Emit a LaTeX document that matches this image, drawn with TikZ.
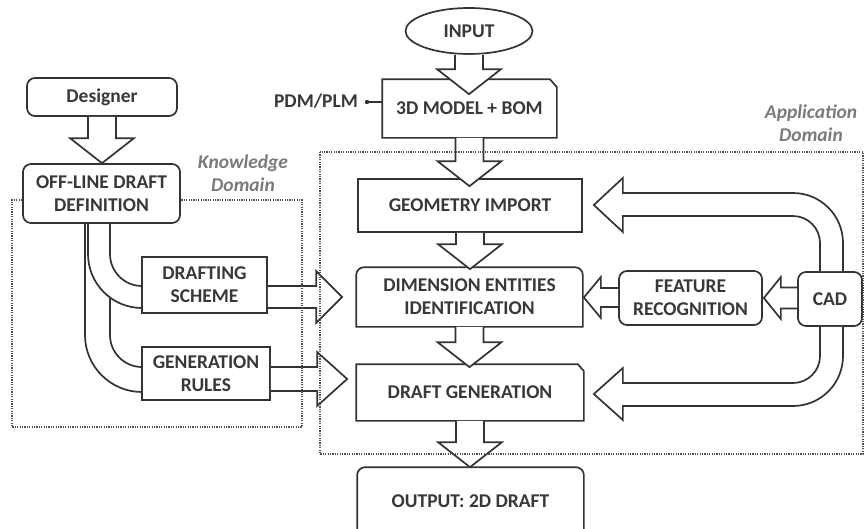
\documentclass[tikz,border=0pt]{standalone}
\usepackage{fontspec}
\setmainfont{Carlito}
\usetikzlibrary{shapes.geometric,calc}
\definecolor{lc}{HTML}{333333}
\definecolor{tc}{HTML}{383838}
\definecolor{dc}{HTML}{505050}
\definecolor{gc}{HTML}{7A7A7A}
\newcommand\nfont{\fontsize{19.5pt}{23pt}\selectfont\bfseries}
\newcommand\dfont{\fontsize{19.5pt}{23pt}\selectfont\bfseries\itshape}
% vertical hollow block arrow: from node #1 (south) to node #2 (north), tip #3 inside target
\newcommand\varrow[3]{\draw[blk] let \p1=(#1.south), \p2=(#2.north) in
  (\x1-14pt,\y1) -- (\x1-14pt,\y2-#3+25pt) -- (\x1-32pt,\y2-#3+25pt) -- (\x1,\y2-#3)
  -- (\x1+32pt,\y2-#3+25pt) -- (\x1+14pt,\y2-#3+25pt) -- (\x1+14pt,\y1);}
\begin{document}
\begin{tikzpicture}[x=1pt,y=-1pt,
  base/.style={draw=lc, line width=1.7pt, text=tc, font=\nfont, inner sep=0pt, align=center},
  sqbox/.style={base},
  rbox/.style={base, rounded corners=8pt},
  ghost/.style={base, draw=none},
  ell/.style={base, ellipse},
  shp/.style={draw=lc, line width=1.7pt, line join=miter},
  band/.style={draw=lc, line width=1.7pt},
  blk/.style={draw=lc, line width=1.7pt, fill=white, line join=miter},
  dom/.style={draw=dc, line width=1.3pt, dash pattern=on 1.2pt off 1.2pt},
  domlabel/.style={text=gc, font=\dfont, align=center, inner sep=0pt},
  plain/.style={text=tc, font=\nfont, inner sep=0pt}
]
\useasboundingbox (0,0) rectangle (866,528);
\clip (0,0) rectangle (866,528);

% ---------- nodes ----------
\node[ell, minimum width=127pt, minimum height=46pt] (input) at (469,31) {INPUT};
\node[ghost, minimum width=173pt, minimum height=57pt] (model) at (469.5,108.5) {3D MODEL + BOM};
\node[sqbox, minimum width=224pt, minimum height=53pt] (geom) at (470,205.5) {GEOMETRY IMPORT};
\node[ghost, minimum width=225pt, minimum height=58pt] (dim) at (469.5,297) {DIMENSION ENTITIES\\IDENTIFICATION};
\node[ghost, minimum width=226pt, minimum height=55pt] (draft) at (470,392.5) {DRAFT GENERATION};
\node[ghost, minimum width=225pt, minimum height=66pt] (output) at (470.5,501) {OUTPUT: 2D DRAFT};
\node[rbox, minimum width=143pt, minimum height=54pt] (feat) at (690.5,298) {FEATURE\\RECOGNITION};
\node[rbox, minimum width=64pt, minimum height=54pt] (cad) at (830,299) {CAD};
\node[rbox, minimum width=150pt, minimum height=38pt] (designer) at (102,97) {Designer};
\node[rbox, minimum width=157pt, minimum height=59pt] (offline) at (101.5,193.5) {OFF-LINE DRAFT\\DEFINITION};
\node[sqbox, minimum width=125pt, minimum height=56pt] (drafting) at (204.5,285) {DRAFTING\\SCHEME};
\node[sqbox, minimum width=128pt, minimum height=53pt] (genrules) at (206,373.5) {GENERATION\\RULES};
\node[plain] (pdm) at (316,101) {PDM/PLM};
\coordinate (pdmdot) at (367,102);

% ---------- special box outlines ----------
\draw[shp] (model.south west) -- (model.north west) -- ([xshift=-7pt]model.north east)
  -- ([yshift=-8pt]model.north east) -- (model.south east) -- cycle;
\draw[shp] (draft.south west) -- (draft.north west) -- ([xshift=-6pt]draft.north east)
  -- ([yshift=-7pt]draft.north east) -- (draft.south east) -- cycle;
\draw[shp] (dim.south west) -- ([yshift=-8pt]dim.north west) arc[start angle=180,end angle=90,radius=8pt]
  -- ([xshift=-8pt]dim.north east) arc[start angle=90,end angle=0,radius=8pt] -- (dim.south east) -- cycle;
\draw[shp] (output.south west) -- ([yshift=-8pt]output.north west) arc[start angle=180,end angle=90,radius=8pt]
  -- ([xshift=-8pt]output.north east) arc[start angle=90,end angle=0,radius=8pt] -- (output.south east) -- cycle;

% PDM/PLM link
\fill[lc] (pdmdot) circle (2.2pt);
\draw[band, line width=1.3pt] (pdmdot) -- (pdmdot -| model.west);

% ---------- curved bands from the off-line definition ----------
\draw[band] ([xshift=-13.5pt]offline.south) -- (88,254) arc[start angle=180,end angle=270,radius=54pt];
\draw[band] ([xshift=8.5pt]offline.south) -- (110,254) arc[start angle=180,end angle=270,radius=32pt];
\draw[band] ([xshift=-16.5pt]offline.south) -- (85,335) arc[start angle=180,end angle=270,radius=57pt];
\draw[band] (110,297.5) -- (110,335) arc[start angle=180,end angle=270,radius=32pt];

% ---------- vertical block arrows ----------
\varrow{input}{model}{15pt}
\varrow{model}{geom}{8pt}
\varrow{geom}{dim}{2pt}
\varrow{dim}{draft}{3pt}
\varrow{draft}{output}{0pt}
\varrow{designer}{offline}{0pt}

% ---------- horizontal block arrows ----------
\draw[blk] let \p1=(drafting.east), \p2=(dim.west) in
  (\x1,-286pt) -- (\x2-40pt,-286pt) -- (\x2-40pt,-271pt) -- (\x2-14pt,-297pt)
  -- (\x2-40pt,-323pt) -- (\x2-40pt,-308pt) -- (\x1,-308pt);
\draw[blk] let \p1=(genrules.east), \p2=(draft.west) in
  (\x1,-367pt) -- (\x2-39pt,-367pt) -- (\x2-39pt,-352pt) -- (\x2-9pt,-379pt)
  -- (\x2-39pt,-406pt) -- (\x2-39pt,-391pt) -- (\x1,-391pt);
\draw[blk] let \p1=(feat.west), \p2=(dim.east) in
  (\x1,-288pt) -- (\x2+18pt,-288pt) -- (\x2+18pt,-277pt) -- (\x2+1pt,-297.5pt)
  -- (\x2+18pt,-318pt) -- (\x2+18pt,-307pt) -- (\x1,-307pt);
\draw[blk] let \p1=(cad.west), \p2=(feat.east) in
  (\x1,-287.5pt) -- (\x2+18pt,-287.5pt) -- (\x2+18pt,-277pt) -- (\x2+1pt,-298pt)
  -- (\x2+18pt,-319pt) -- (\x2+18pt,-308.5pt) -- (\x1,-308.5pt);

% ---------- U-shaped block arrows from CAD ----------
\draw[blk] let \p1=(cad.north), \p2=(geom.east) in
  (820pt,\y1) -- (820pt,-243pt) arc[start angle=0,end angle=90,radius=27pt]
  -- (\x2+40pt,-216pt) -- (\x2+40pt,-232pt) -- (\x2+11pt,-205pt) -- (\x2+40pt,-178pt)
  -- (\x2+40pt,-193pt) -- (793pt,-193pt) arc[start angle=90,end angle=0,radius=50pt] -- (843pt,\y1);
\draw[blk] let \p1=(cad.south), \p2=(draft.east) in
  (820pt,\y1) -- (820pt,-356pt) arc[start angle=0,end angle=-90,radius=27pt]
  -- (\x2+39pt,-383pt) -- (\x2+39pt,-368pt) -- (\x2+10pt,-394pt) -- (\x2+39pt,-420pt)
  -- (\x2+39pt,-406pt) -- (793pt,-406pt) arc[start angle=-90,end angle=0,radius=50pt] -- (843pt,\y1);

% ---------- domains ----------
\draw[dom] (offline.west |- 0,200) -- (12,200) -- (12,427) -- (302,427) -- (302,200) -- (offline.east |- 0,200);
\draw[dom] (320,152) rectangle (863,454);
\node[domlabel] (kdom) at (243,173.5) {Knowledge\\Domain};
\node[domlabel] (adom) at (811,123.5) {Application\\Domain};
\end{tikzpicture}
\end{document}
